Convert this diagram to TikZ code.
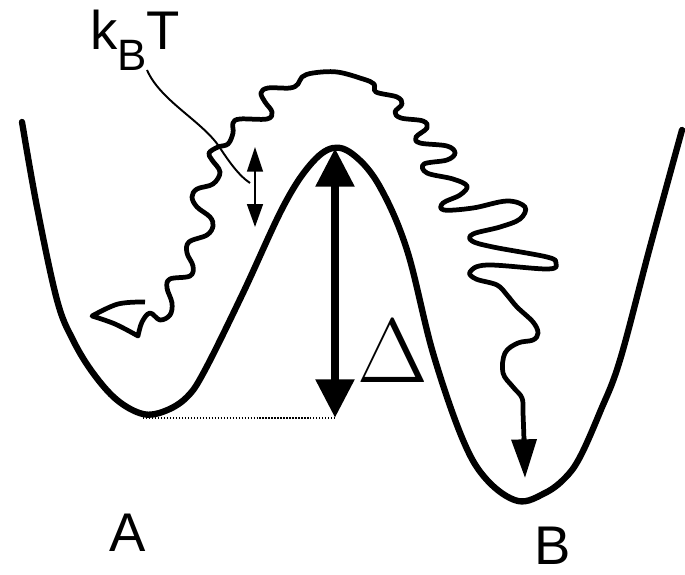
\RequirePackage{fix-cm}
\documentclass[tikz,border=0pt]{standalone}
\usepackage{fontspec}
\setmainfont{Liberation Sans}
\usetikzlibrary{arrows.meta}
\tikzset{
 well/.style={line width=3.6pt,line cap=round},
 walk/.style={line width=2.7pt,line join=round},
 leader/.style={line width=1.1pt},
 lbl/.style={inner sep=0pt,font=\fontsize{31}{31}\selectfont},
 barrier/.style={{Triangle[length=22pt,width=21pt]}-{Triangle[length=22pt,width=21pt]},line width=5pt},
 kick/.style={{Triangle[length=13pt,width=9pt]}-{Triangle[length=14pt,width=9pt]},line width=1.1pt},
 fall/.style={-{Triangle[length=22pt,width=14pt]}}
}

\begin{document}
\begin{tikzpicture}[x=0.02cm,y=-0.02cm]
\useasboundingbox (0,0) rectangle (685,574);
% double well
\draw[well] plot[smooth,tension=0.6] coordinates {(22,122) (37,207) (57,300) (73,340) (93,373)
  (117,400) (143,414) (165,411) (187,397) (205,370) (243,293) (283,207) (310,165) (333,148)
  (355,156) (380,187) (407,250) (433,353) (463,440) (487,480) (518,501) (545,493) (565,478)
  (580,457) (600,412) (620,360) (650,247) (682,130)};
\coordinate (amin) at (143,418);
\coordinate (top) at (335,148);
\coordinate (low) at (335,418);
\draw[densely dotted,line width=0.7pt] (amin) -- (low);
\draw[barrier] (low) -- (top);
\node[lbl,anchor=base,font=\fontsize{52}{52}\selectfont] (delta) at (393,382) {$\Delta$};
% labels
\node[lbl,anchor=base west] (kbt) at (90,50) {k\raisebox{-0.42cm}{\fontsize{25}{25}\selectfont B}T};
\node[lbl] (wa) at (128,533) {A};
\node[lbl] (wb) at (553,546) {B};
% thermal kick
\coordinate (kup) at (255,147);
\coordinate (kdn) at (255,227);
\draw[kick] (kdn) -- (kup);
\coordinate (lead0) at (147,70);
\coordinate (lead1) at (250,183);
\draw[leader] (lead0) .. controls (160,100) and (200,120) .. (218,145)
  .. controls (228,160) and (238,175) .. (lead1);
% trajectory
\coordinate (bend) at (525,478);
\draw[walk] plot[smooth,tension=0.6] coordinates {(145,302) (118,304) (92,316)}
  -- plot[smooth,tension=0.6] coordinates {(92,316) (115,324) (138,336)}
  -- plot[smooth,tension=0.6] coordinates {(138,336) (142,322) (150,313) (160,320) (170,315)
  (172,303) (167,288) (170,279) (190,276) (193,266) (187,253) (189,242) (207,235) (213,226)
  (210,217) (197,207) (192,197) (197,189) (213,184) (220,172) (212,160) (209,153) (218,147)
  (228,144) (233,133) (233,123) (240,119) (267,119) (272,112) (265,102) (261,93) (268,88)
  (290,88) (298,84) (302,77) (313,73) (337,72) (363,79) (374,84) (376,92) (397,97) (402,104)
  (395,112) (401,118) (423,121) (427,128) (416,137) (420,143) (447,146) (455,153) (447,160)
  (424,164) (427,173) (453,179) (467,186) (460,195) (443,203) (444,210) (473,208) (507,201)
  (525,207) (520,219) (500,227) (473,234) (472,241) (493,247) (547,257) (556,263) (548,269)
  (487,265) (470,272) (476,279) (497,285) (507,295) (517,307) (533,322) (538,333) (533,340)
  (518,343) (505,353) (503,373) (513,387) (522,398) (523,413) (524,440)};
\draw[walk,fall] (524,438) -- (bend);
\end{tikzpicture}
\end{document}
